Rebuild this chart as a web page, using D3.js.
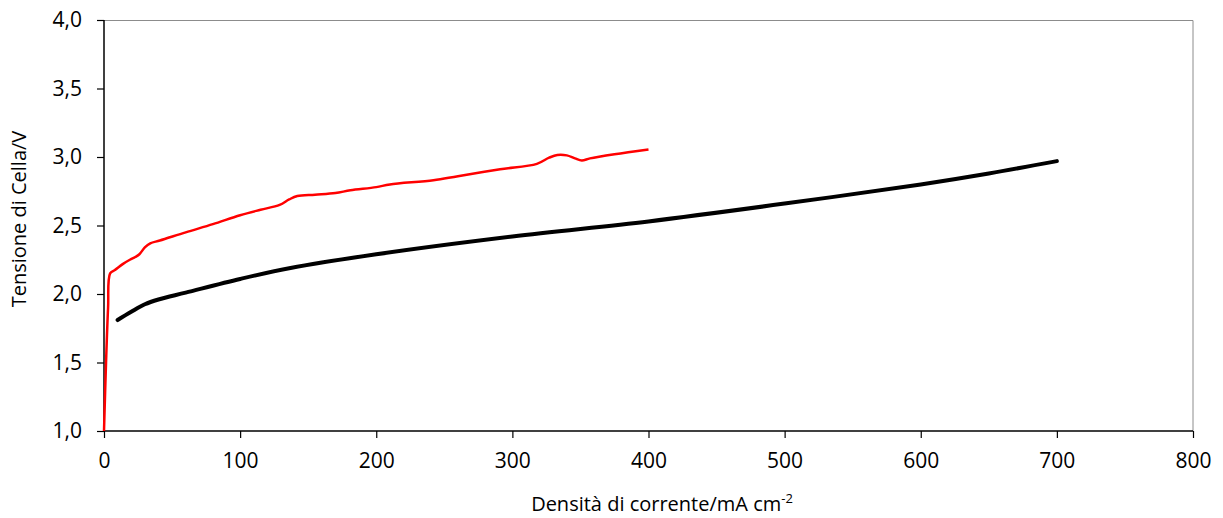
<!DOCTYPE html>
<html>
<head>
<meta charset="utf-8">
<script src="https://cdn.jsdelivr.net/npm/d3@7"></script>
<style>
  body { margin: 0; background: #fff; }
  svg text { font-family: "Open Sans", "Noto Sans", sans-serif; fill: #000; }
</style>
</head>
<body>
<div id="chart"></div>
<script>
const svgWidth = 1223;
const svgHeight = 518;

// Data
const redX = [0, 1.5, 3, 4.5, 8, 14, 19, 23, 26, 30, 34, 41, 60, 80, 100, 115, 129, 136, 142, 155, 170, 181, 200, 210, 242, 260, 291, 318, 327, 333, 340, 346, 351, 357, 375, 400];
const redY = [1.0, 1.5, 1.9, 2.15, 2.175, 2.22, 2.25, 2.27, 2.29, 2.34, 2.37, 2.39, 2.45, 2.51, 2.575, 2.615, 2.65, 2.69, 2.715, 2.725, 2.737, 2.757, 2.78, 2.80, 2.83, 2.86, 2.91, 2.95, 2.995, 3.015, 3.012, 2.99, 2.975, 2.99, 3.02, 3.055];

const blackX = [10, 20, 30, 40, 60, 100, 137, 200, 300, 400, 500, 600, 650, 700];
const blackY = [1.81, 1.87, 1.925, 1.96, 2.01, 2.11, 2.19, 2.29, 2.42, 2.53, 2.66, 2.80, 2.88, 2.97];

const xTicks = [0, 100, 200, 300, 400, 500, 600, 700, 800];
const yTicks = [1.0, 1.5, 2.0, 2.5, 3.0, 3.5, 4.0];

const margin = { top: 20, right: 30, bottom: 87, left: 104 };
const chartWidth = svgWidth - margin.left - margin.right;
const chartHeight = svgHeight - margin.top - margin.bottom;

const svg = d3.select('#chart').append('svg').attr('width', svgWidth).attr('height', svgHeight);
const g = svg.append('g').attr('transform', `translate(${margin.left},${margin.top})`);

const xScale = d3.scaleLinear().domain([0, 800]).range([0, chartWidth]);
const yScale = d3.scaleLinear().domain([1, 4]).range([chartHeight, 0]);

// plot area border (top and right)
g.append('path')
  .attr('d', `M0,0.5H${chartWidth}V${chartHeight}`)
  .attr('fill', 'none')
  .attr('stroke', '#8c8c8c')
  .attr('stroke-width', 1);

const fmt = d3.format('.1f');

const xAxis = g.append('g')
  .attr('transform', `translate(0,${chartHeight})`)
  .call(d3.axisBottom(xScale).tickValues(xTicks).tickSize(7).tickPadding(15).tickFormat(d3.format('d')));

const yAxis = g.append('g')
  .call(d3.axisLeft(yScale).tickValues(yTicks).tickSize(7).tickPadding(15).tickFormat(d => fmt(d).replace('.', ',')));

[xAxis, yAxis].forEach(a => {
  a.select('.domain').attr('stroke', '#000').attr('stroke-width', 1.5);
  a.selectAll('.tick line').attr('stroke', '#000').attr('stroke-width', 1.2);
  a.selectAll('.tick text').style('font-size', '21px').attr('fill', '#000');
});
yAxis.select('.domain').attr('d', `M0,${chartHeight}V0`);
xAxis.select('.domain').attr('d', `M0,0H${chartWidth}`);

g.append('path')
  .datum(blackX.map((x, i) => [x, blackY[i]]))
  .attr('fill', 'none')
  .attr('stroke', '#000')
  .attr('stroke-width', 4)
  .attr('stroke-linecap', 'round')
  .attr('d', d3.line().x(d => xScale(d[0])).y(d => yScale(d[1])).curve(d3.curveCatmullRom.alpha(0.5)));

g.append('path')
  .datum(redX.map((x, i) => [x, redY[i]]))
  .attr('fill', 'none')
  .attr('stroke', '#ff0000')
  .attr('stroke-width', 2.5)
  .attr('stroke-linejoin', 'round')
  .attr('d', d3.line().x(d => xScale(d[0])).y(d => yScale(d[1])).curve(d3.curveCatmullRom.alpha(0.5)));

// Axis labels
const xl = svg.append('text')
  .attr('x', 662)
  .attr('y', 511)
  .attr('text-anchor', 'middle')
  .style('font-size', '20px');
xl.append('tspan').text('Densità di corrente/mA cm');
xl.append('tspan').attr('dy', -8).style('font-size', '13px').text('-2');

svg.append('text')
  .attr('transform', 'rotate(-90)')
  .attr('x', -219)
  .attr('y', 26)
  .attr('text-anchor', 'middle')
  .style('font-size', '20px')
  .text('Tensione di Cella/V');
</script>
</body>
</html>
